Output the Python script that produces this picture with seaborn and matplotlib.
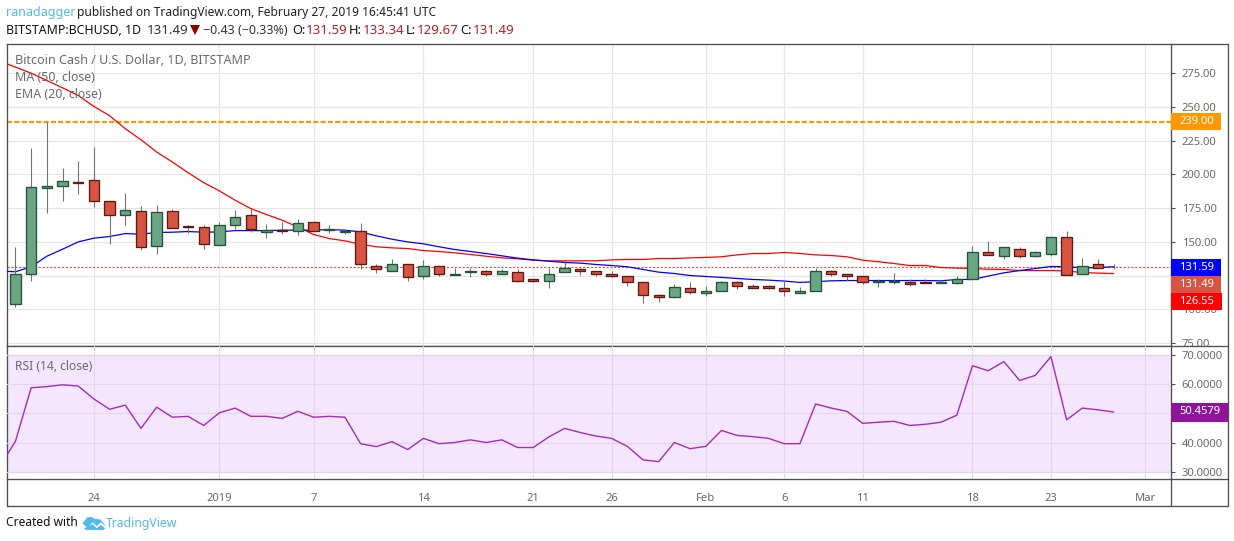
import numpy as np
import pandas as pd
import matplotlib
matplotlib.use("Agg")
import matplotlib.pyplot as plt
from matplotlib.patches import Rectangle, Polygon
from matplotlib.lines import Line2D
import seaborn as sns

# ---------- data ----------
opens = [103.7,125.9,190,191.7,194.7,196.2,180.6,170.3,173.2,147.3,173.2,162.1,161.4,148,162.9,170.3,157,159.2,158.4,165,158.9,157.7,158.4,131.8,128.8,133.3,
         124.4,132.5,125.6,127.4,128.1,126.6,127.4,122.2,120.7,127.4,130.3,128.1,125.9,125.1,120,110.4,108.9,115.5,112.3,114,120,117,117,115.5,112.3,114,
         128.1,126.6,125.1,120.5,120.5,120.5,120.2,119.7,119.7,122.2,142.2,139.9,145.1,139.7,141.4,154,126.6,133.3,131.59]
closes = [125.9,191,191.7,195.4,193.7,180.6,170.3,174,146.6,172.5,160,161.1,148.8,162.9,168.8,159.9,159.2,158.2,164.3,158.4,159.9,158.4,133.3,129.6,133.3,123.7,
          131.8,126.6,126.6,128.8,126.6,128.1,121.4,120.7,126.6,131,128.1,125.9,124.4,120,110.4,108.9,116.3,112.6,113.3,120,117,116,115.5,113.3,113.3,128.1,
          126.6,125.1,120,121.2,121,119,119.7,120.5,122.2,142.2,140.4,145.9,139.7,142.2,153.3,125.6,132.5,131,131.49]
highs = [146,219.3,239,205,209.7,220,180.6,186,176.4,177,174.7,162.9,162.4,164.6,173.5,174.7,163.1,164.6,166.8,165.8,162.6,159.9,163.9,133.3,137,134,
         136.5,132.5,131,131,129,130.3,129.6,122.9,131,135,131,128.8,128.4,125.1,120,111.3,119.2,120.2,117,121,121,118.7,117.8,121.7,116.5,131,
         129,126.6,125.1,122.2,126.9,122.2,122.9,121.7,124.4,147.3,150.5,146.6,146.6,143.6,153.3,158,138,137.2,133.34]
lows = [102,121.2,171.5,180.4,185.3,176,148.3,162.6,144.1,141.2,160,156.7,144.9,148,159.7,157,153,156,155.2,158.4,156.7,156,129.6,127.1,128.8,121.4,
        122.7,124.7,125.6,124.2,124.7,126.6,120.5,120.2,116,127.4,125.4,124.7,123.7,117.3,104.9,105.7,108.1,111.6,110,114,115.3,116,115.3,110,112.3,113.3,
        124.4,120.7,119,116.5,119,117.5,119.7,119.7,119,122.2,140.4,137.5,138.2,139,139.7,125.6,126.6,131,129.67]

ma_line = [284,279.5,275,269.6,264.2,258.5,250.4,243.5,233.9,225.7,216.6,209.2,201.3,193.9,187.8,180.9,174.7,170.3,166.1,161.1,155.5,152.5,150.8,148.3,146.4,145.6,145.1,
           143.6,142.9,141.9,140.7,139.4,138.2,137.5,136.5,136,136,136,136,136.7,137,137,137.7,137.7,138.2,138.5,139,140.4,141.4,141.4,142.2,141.4,140.4,
           139.9,139,136.5,135.3,134,132.5,132.5,131,130.6,130.3,129.8,129.6,128.8,128.8,128.8,128.4,127.4,126.9,126.55]
ema_line = [128.4,127.9,131.6,139.4,144.6,150,152.8,154,156.2,155.7,157,157.2,157.7,157.2,157.4,158.4,158.4,158.4,158.7,158.7,158.7,159.2,158.7,157.4,154.5,152,150,
            148.6,146.4,144.4,142.9,141.4,139.7,138,136.7,135.7,134.8,134.3,133.3,132.5,131.6,129.6,127.6,126.6,125.1,124.4,123.7,122.9,122.2,121.7,121,120,120.5,
            121.2,121.4,121.4,121.4,121.4,121.4,121.4,121.2,122.2,122.2,124.7,127.1,128.8,130.3,131.8,131.6,130.8,131,131.59]
rsi_line = [32,40.5,58.7,59.1,59.7,59.3,54.9,51.4,52.8,44.9,52.1,48.7,49,45.9,50.2,51.8,49,49,48.3,50.7,48.7,49,48.7,39.7,38.7,40.4,37.7,41.5,39.7,40.1,41,40.1,41,38.4,38.4,
            42,44.9,43.5,42.3,41.5,38.8,34.2,33.6,40.1,38,38.8,44.2,42.5,42.1,41.5,39.7,39.7,53.2,51.8,50.7,46.6,47,47.3,45.9,46.3,47,49.4,66.2,64.5,67.6,61.2,62.9,69.3,47.8,51.8,51.2,50.4579]

resistance = 239.0
last_close = 131.49
tick_days = [5,13,19,26,33,38,44,49,54,61,66,72]
tick_names = ["24","2019","7","14","21","26","Feb","6","11","18","23","Mar"]
price_ticks = [75,100,125,150,175,200,225,250,275]
price_names = ["75.00","100.00","","150.00","175.00","200.00","225.00","250.00","275.00"]
rsi_ticks = [30,40,50,60,70]
rsi_names = ["30.0000","40.0000","","60.0000","70.0000"]

# ---------- layout helpers ----------
W, H = 1234, 541
sns.set_theme(style="white")
plt.rcParams["font.family"] = ["Noto Sans", "DejaVu Sans"]
fig = plt.figure(figsize=(W/100, H/100), dpi=100, facecolor="white")

def box(x0, y0, x1, y1):
    return [x0/W, 1-y1/H, (x1-x0)/W, (y1-y0)/H]
def px(x, y, s, **kw):
    kw.setdefault("va", "center"); kw.setdefault("ha", "left")
    return fig.text(x/W, 1-y/H, s, **kw)

PANE_L, PANE_R, TOP, MID, BOT, FOOT, FR = 6.5, 1170.5, 43.5, 346, 479, 506, 1228
ax = fig.add_axes(box(PANE_L, TOP, PANE_R, MID))
ar = fig.add_axes(box(PANE_L, MID, PANE_R, BOT))
XL = (-0.57, 73.62)
GRID, FRAME, TXT = "#e6e6e6", "#4f4f4f", "#6a6a6a"
UP, UPE, DN, DNE, WICK = "#6ba583", "#225437", "#d75442", "#5b1a13", "#737375"
TICK_FS = 8.1

days = np.arange(len(opens))
candles = pd.DataFrame(dict(day=days, o=opens, h=highs, l=lows, c=closes))
lines = pd.DataFrame(dict(day=np.arange(-1, len(opens)), ma=ma_line, ema=ema_line, rsi=rsi_line))

# ---------- price pane ----------
ax.set_xlim(*XL); ax.set_ylim(72.9, 297)
ax.set_yticks(price_ticks); ax.set_xticks(tick_days)
ax.grid(True, color=GRID, lw=0.85); ax.set_axisbelow(True)
ax.set_xticklabels([])
ax.axhline(last_close, color=DN, lw=0.8, ls=(0, (2, 1.5)), zorder=2)
ax.axhline(resistance, color="#ff9800", lw=1.5, ls=(0, (2.5, 1)), zorder=2)
sns.lineplot(data=lines, x="day", y="ma", color="#ff0000", lw=0.9, ax=ax, zorder=3, errorbar=None)
sns.lineplot(data=lines, x="day", y="ema", color="#0000ff", lw=0.9, ax=ax, zorder=3, errorbar=None)
up = candles.c >= candles.o
span = (candles.c-candles.o).abs()
ax.vlines(candles.day, candles.l, candles.h, color=WICK, lw=0.8, zorder=4)
body = np.where(span < 0.2, span, np.maximum(span, 0.7))
ax.bar(candles.day, body, bottom=np.minimum(candles.o, candles.c), width=0.66,
       color=[UP if u else DN for u in up], edgecolor=[UPE if u else DNE for u in up],
       linewidth=[0 if s < 0.2 else 0.95 for s in span], zorder=5)
ax.set_xlabel(""); ax.set_ylabel("")
ax.yaxis.tick_right()
ax.set_yticklabels(price_names, color=TXT, fontsize=TICK_FS)
ax.tick_params(axis="y", length=3, width=0.8, color=FRAME, pad=5, right=True)
ax.tick_params(axis="x", length=0)

# ---------- RSI pane ----------
ar.set_xlim(*XL); ar.set_ylim(27.7, 72.9)
ar.set_yticks(rsi_ticks); ar.set_xticks(tick_days)
ar.grid(True, color="#e3d6ec", lw=0.85, zorder=1); ar.set_axisbelow(False)
ar.axhspan(30, 70, color="#f4e6fe", zorder=0, lw=0)
for level in (30, 70):
    ar.axhline(level, color="#b5aeb8", lw=0.8, ls=(0, (4, 2)), zorder=2)
sns.lineplot(data=lines, x="day", y="rsi", color="#a32cb8", lw=1.0, ax=ar, zorder=4, errorbar=None)
ar.set_xlabel(""); ar.set_ylabel("")
ar.yaxis.tick_right()
ar.set_yticklabels(rsi_names, color=TXT, fontsize=TICK_FS)
ar.set_xticklabels(tick_names, color=TXT, fontsize=TICK_FS)
for lab, n in zip(ar.get_xticklabels(), tick_names):
    if n == "2019": lab.set_fontweight("bold")
ar.tick_params(axis="y", length=3, width=0.8, color=FRAME, pad=5, right=True)
ar.tick_params(axis="x", length=3, width=0.8, color=FRAME, pad=7)

for a in (ax, ar):
    for s in a.spines.values():
        s.set_color(FRAME); s.set_linewidth(0.95)

# ---------- frame ----------
for x0, y0, x1, y1 in [(PANE_L,FOOT,FR,FOOT),(FR,TOP,FR,FOOT),(PANE_R,TOP,FR,TOP),(PANE_L,BOT,PANE_L,FOOT),(PANE_R,MID,FR,MID),(PANE_R,BOT,FR,BOT),(PANE_R,BOT,PANE_R,FOOT)]:
    fig.add_artist(Line2D([x0/W, x1/W], [1-y0/H, 1-y1/H], color=FRAME, lw=0.95))

# ---------- value tags ----------
def tag(y0, y1, s, c, x1=1220.5):
    fig.add_artist(Rectangle((PANE_R/W, 1-y1/H), (x1-PANE_R)/W, (y1-y0)/H, color=c, lw=0, zorder=10))
    px(1179, (y0+y1)/2, s, color="white", fontsize=TICK_FS, fontweight="bold", zorder=11)
tag(113, 130, "239.00", "#ff9800")
tag(259, 276, "131.59", "#0000ff")
tag(276, 293, "131.49", DN)
tag(293, 310, "126.55", "#ff0000", 1221.5)
tag(402.5, 421.5, "50.4579", "#8e1599", 1228)

# ---------- texts ----------
px(6, 12.5, "ranadagger", color="#53b9e9", fontsize=9.0)
px(77, 12.5, "published on TradingView.com, February 27, 2019 16:45:41 UTC", color="#222222", fontsize=8.65)
px(6, 30, "BITSTAMP:BCHUSD, 1D", color="#111111", fontsize=8.85, fontweight="bold")
px(147, 30, "131.49", color="#333333", fontsize=9.6)
fig.add_artist(Polygon([(190/W,1-25/H),(200/W,1-25/H),(195/W,1-35/H)], closed=True, color="#8b0000", lw=0))
px(203, 30, "−0.43 (−0.33%)", color="#333333", fontsize=9.0)
x_label = [(292,"O:",306,"131.59"),(349,"H:",363,"133.34"),(406,"L:",417,"129.67"),(460,"C:",473,"131.49")]
for xa, a, xb, b in x_label:
    px(xa, 30, a, color="#111111", fontsize=9.2, fontweight="bold")
    px(xb, 30, b, color="#b22222", fontsize=9.6)

px(15, 60, "Bitcoin Cash / U.S. Dollar, 1D, BITSTAMP", color=TXT, fontsize=9.05, fontweight="semibold", zorder=12)
px(15, 77.5, "MA (50, close)", color=TXT, fontsize=8.9, zorder=12)
px(15, 94.5, "EMA (20, close)", color=TXT, fontsize=8.9, zorder=12)
px(15, 366, "RSI (14, close)", color=TXT, fontsize=8.7, zorder=12)

px(6, 523, "Created with", color="#111111", fontsize=8.6)
px(106, 523, "TradingView", color="#53b9e9", fontsize=8.8)
logo_top = [(247,55),(262,37),(275,36),(285,42),(300,43),(316,60),(316,63),(303,52),(290,63),(278,52),(262,68)]
logo_low = [(252,70),(278,57),(290,70),(303,60),(316,70),(310,75),(258,75)]
for shape in (logo_top, logo_low):
    fig.add_artist(Polygon([(x/3/W, 1-(505+y/3)/H) for x, y in shape], closed=True, color="#53b9e9", lw=0))

fig.savefig("out.png", dpi=100, facecolor="white")
